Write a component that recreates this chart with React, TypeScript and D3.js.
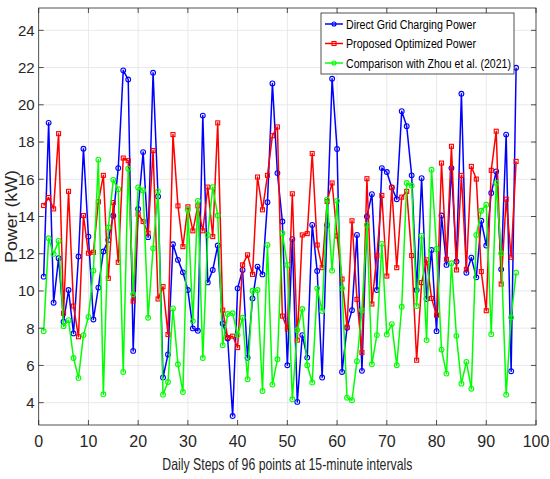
import React, { useEffect, useRef } from 'react';
import * as d3 from 'd3';

// readings of the three 96-step curves (kW)
const directGrid = [
  10.77, 19.03, 9.37, 11.76, 8.35, 10.05, 7.72, 11.85, 17.64, 12.92, 8.47, 10.18,
  12.12, 12.74, 14.04, 16.6, 21.85, 21.36, 6.78, 14.4, 17.46, 12.89, 21.72, 15.08,
  5.35, 6.59, 12.51, 11.67, 11.0, 10.05, 7.99, 7.86, 19.42, 10.46, 11.13, 12.44,
  8.25, 7.45, 3.28, 10.14, 11.13, 6.41, 9.6, 11.31, 10.89, 14.77, 21.15, 16.33,
  13.73, 6.01, 12.78, 4.04, 7.63, 6.42, 13.55, 11.07, 5.35, 13.55, 21.4, 17.63,
  5.65, 8.02, 8.97, 13.01, 5.71, 14.0, 15.2, 10.05, 16.6, 16.39, 15.56, 14.93,
  19.66, 18.85, 16.21, 10.05, 16.06, 9.57, 12.2, 7.84, 14.05, 11.4, 16.6, 11.58,
  20.59, 10.98, 11.79, 10.73, 13.77, 12.44, 15.26, 16.42, 11.16, 18.4, 5.69, 21.99,
];

const proposed = [
  14.59, 15.02, 14.41, 18.45, 8.8, 15.35, 9.19, 7.54, 14.05, 12.03, 12.08, 14.79,
  16.21, 10.68, 14.75, 11.54, 17.14, 17.0, 9.46, 14.13, 13.73, 13.1, 17.54, 9.57,
  10.23, 7.66, 18.4, 14.57, 12.38, 14.52, 13.23, 14.57, 13.23, 15.58, 12.92, 19.03,
  8.97, 7.5, 7.57, 6.96, 11.4, 11.94, 10.89, 16.12, 14.36, 16.21, 18.34, 18.81,
  8.65, 7.95, 15.22, 7.36, 13.01, 13.08, 17.38, 12.47, 11.25, 14.81, 15.8, 12.96,
  10.64, 8.06, 13.77, 9.55, 6.69, 16.03, 9.3, 11.9, 15.13, 10.8, 15.56, 11.25,
  15.04, 15.35, 11.9, 6.28, 10.45, 11.67, 9.6, 8.7, 16.87, 11.7, 17.77, 11.13,
  16.21, 11.16, 16.69, 16.01, 11.04, 8.94, 16.48, 18.58, 10.37, 14.93, 11.81, 16.96,
];

const zhou2021 = [
  7.84, 12.83, 11.99, 12.69, 8.11, 8.43, 6.4, 5.33, 7.63, 8.61, 11.09, 17.05,
  4.45, 13.41, 15.97, 15.47, 5.65, 16.57, 9.82, 15.56, 15.4, 8.56, 12.29, 15.35,
  4.43, 5.11, 9.06, 6.06, 4.57, 14.36, 8.38, 14.84, 6.4, 13.01, 15.58, 14.05,
  7.09, 8.76, 8.8, 7.63, 8.56, 5.26, 10.01, 10.05, 4.63, 12.47, 4.97, 6.33,
  13.1, 11.4, 4.18, 7.9, 9.03, 6.01, 5.08, 10.14, 8.92, 14.9, 11.09, 14.84,
  10.14, 4.27, 4.13, 6.23, 8.97, 13.55, 6.06, 7.63, 12.53, 7.66, 8.22, 6.01,
  9.15, 15.8, 15.65, 9.19, 12.96, 7.36, 16.51, 12.26, 6.85, 5.56, 11.49, 7.59,
  5.02, 6.19, 4.75, 13.01, 14.31, 14.63, 7.68, 15.8, 12.02, 4.43, 8.58, 10.98,
];

const seriesNames = [
  'Direct Grid Charging Power',
  'Proposed Optimized Power',
  'Comparison with Zhou et al. (2021)',
];
const xTicks = [0, 10, 20, 30, 40, 50, 60, 70, 80, 90, 100];
const yTicks = [4, 6, 8, 10, 12, 14, 16, 18, 20, 22, 24];

const FONT = '"Liberation Sans", Arial, Helvetica, sans-serif';

const App: React.FC = () => {
  const svgRef = useRef<SVGSVGElement>(null);

  useEffect(() => {
    if (!svgRef.current) return;
    const W = 550;
    const H = 479;
    const left = 38.7, right = 536, top = 8, bottom = 425;

    const svg = d3.select(svgRef.current);
    svg.selectAll('*').remove();
    svg.attr('width', W).attr('height', H);
    svg.append('rect').attr('width', W).attr('height', H).attr('fill', '#fff');

    const x = d3.scaleLinear().domain([0, 100]).range([left, right]);
    const y = d3.scaleLinear().domain([2.8, 25.2]).range([bottom, top]);

    // grid
    const grid = svg.append('g').attr('stroke', '#e3e3e3').attr('stroke-width', 0.8);
    grid.selectAll('.gx').data(xTicks.slice(1, -1)).enter().append('line')
      .attr('x1', d => x(d)).attr('x2', d => x(d)).attr('y1', top).attr('y2', bottom);
    grid.selectAll('.gy').data(yTicks).enter().append('line')
      .attr('x1', left).attr('x2', right).attr('y1', d => y(d)).attr('y2', d => y(d));

    // series
    const steps = d3.range(1, 97);
    const series = [
      { values: directGrid, color: '#0000ff', marker: 'circle' },
      { values: proposed, color: '#ff0000', marker: 'square' },
      { values: zhou2021, color: '#00ff00', marker: 'circle' },
    ];
    const line = d3.line<number>().x((_d, i) => x(steps[i])).y(d => y(d));

    series.forEach(s => {
      const g = svg.append('g');
      g.append('path').datum(s.values).attr('d', line)
        .attr('fill', 'none').attr('stroke', s.color).attr('stroke-width', 1.5)
        .attr('stroke-linejoin', 'round');
      if (s.marker === 'circle') {
        g.selectAll('circle').data(s.values).enter().append('circle')
          .attr('cx', (_d, i) => x(steps[i])).attr('cy', d => y(d)).attr('r', 2.4)
          .attr('fill', 'none').attr('stroke', s.color).attr('stroke-width', 1.1);
      } else {
        g.selectAll('rect').data(s.values).enter().append('rect')
          .attr('x', (_d, i) => x(steps[i]) - 2).attr('y', d => y(d) - 2)
          .attr('width', 4).attr('height', 4)
          .attr('fill', 'none').attr('stroke', s.color).attr('stroke-width', 1.1);
      }
    });

    // axes box and ticks
    const axisColor = '#262626';
    svg.append('rect').attr('x', left).attr('y', top)
      .attr('width', right - left).attr('height', bottom - top)
      .attr('fill', 'none').attr('stroke', axisColor).attr('stroke-width', 0.8);

    const ticks = svg.append('g').attr('stroke', axisColor).attr('stroke-width', 0.8);
    xTicks.forEach(t => {
      ticks.append('line').attr('x1', x(t)).attr('x2', x(t)).attr('y1', bottom).attr('y2', bottom - 5);
      ticks.append('line').attr('x1', x(t)).attr('x2', x(t)).attr('y1', top).attr('y2', top + 5);
    });
    yTicks.forEach(t => {
      ticks.append('line').attr('x1', left).attr('x2', left + 5).attr('y1', y(t)).attr('y2', y(t));
      ticks.append('line').attr('x1', right).attr('x2', right - 5).attr('y1', y(t)).attr('y2', y(t));
    });

    svg.append('g').selectAll('text').data(xTicks).enter().append('text')
      .attr('x', d => x(d)).attr('y', bottom + 22)
      .attr('text-anchor', 'middle').attr('font-family', FONT).attr('font-size', 16)
      .attr('fill', axisColor).text(d => d);

    svg.append('g').selectAll('text').data(yTicks).enter().append('text')
      .attr('x', left - 4).attr('y', d => y(d)).attr('dy', '0.36em')
      .attr('text-anchor', 'end').attr('font-family', FONT).attr('font-size', 15)
      .attr('fill', axisColor).text(d => d);

    svg.append('text')
      .attr('x', (left + right) / 2).attr('y', 470)
      .attr('text-anchor', 'middle').attr('font-family', FONT).attr('font-size', 16.5)
      .attr('textLength', 250).attr('lengthAdjust', 'spacingAndGlyphs')
      .attr('fill', axisColor).text('Daily Steps of 96 points at 15-minute intervals');

    svg.append('text')
      .attr('transform', `translate(17,${(top + bottom) / 2}) rotate(-90)`)
      .attr('text-anchor', 'middle').attr('font-family', FONT).attr('font-size', 16)
      .attr('textLength', 93).attr('lengthAdjust', 'spacingAndGlyphs')
      .attr('fill', axisColor).text('Power (kW)');

    // legend
    const lg = svg.append('g');
    lg.append('rect').attr('x', 321).attr('y', 13).attr('width', 193).attr('height', 61)
      .attr('fill', '#fff').attr('stroke', axisColor).attr('stroke-width', 0.8);
    const rowY = [24, 43.5, 63];
    const textLen = [130, 130, 165];
    series.forEach((s, i) => {
      const cy = rowY[i];
      lg.append('line').attr('x1', 325).attr('x2', 343).attr('y1', cy).attr('y2', cy)
        .attr('stroke', s.color).attr('stroke-width', 1.5);
      if (s.marker === 'circle') {
        lg.append('circle').attr('cx', 334).attr('cy', cy).attr('r', 2)
          .attr('fill', 'none').attr('stroke', s.color).attr('stroke-width', 1.1);
      } else {
        lg.append('rect').attr('x', 332).attr('y', cy - 2).attr('width', 4).attr('height', 4)
          .attr('fill', 'none').attr('stroke', s.color).attr('stroke-width', 1.1);
      }
      lg.append('text').attr('x', 346).attr('y', cy).attr('dy', '0.36em')
        .attr('font-family', FONT).attr('font-size', 12.5)
        .attr('textLength', textLen[i]).attr('lengthAdjust', 'spacingAndGlyphs')
        .attr('fill', '#000').text(seriesNames[i]);
    });
  }, []);

  return (
    <div style={{ position: 'absolute', left: 0, top: 0 }}>
      <svg ref={svgRef} style={{ display: 'block' }}></svg>
    </div>
  );
};

export default App;
